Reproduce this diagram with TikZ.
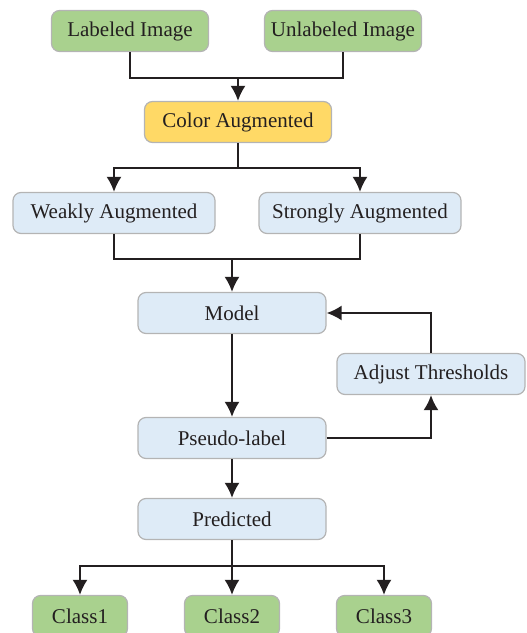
\documentclass[tikz,border=0pt]{standalone}
\usepackage{fontspec}
\setmainfont{Liberation Serif}
\usetikzlibrary{arrows.meta,positioning}

\definecolor{boxgreen}{HTML}{A9D18E}
\definecolor{boxyellow}{HTML}{FFD966}
\definecolor{boxblue}{HTML}{DEEBF7}
\definecolor{boxline}{HTML}{B4B4B4}
\definecolor{txt}{HTML}{231F20}

\begin{document}
\begin{tikzpicture}[
     x=0.5pt, y=-0.5pt,
     % define styles
     box/.style={
         draw=boxline,
         line width=0.6pt,
         rounded corners=4pt,
         minimum height=20.5pt,
         inner sep=2pt,
         text=txt,
         font=\fontsize{10.5}{12}\selectfont
     },
     source/.style={box, fill=boxgreen, minimum width=78.5pt},
     mix/.style={box, fill=boxyellow, minimum width=93.5pt},
     stage/.style={box, fill=boxblue, minimum width=94pt},
     aug/.style={box, fill=boxblue, minimum width=101pt},
     cls/.style={box, fill=boxgreen, minimum width=47.5pt},
     link/.style={draw=txt, line width=1pt},
     >={Latex[length=7.5pt,width=7.5pt]}
]
\useasboundingbox (0,0) rectangle (526,633);

% input images
\node[source] (lab) at (130,31) {Labeled Image};
\node[source] (unl) at (343,31) {Unlabeled Image};
\node[mix] (col) at (238,122) {Color Augmented};

% augmentations
\node[aug] (weak) at (114,213) {Weakly Augmented};
\node[aug] (strong) at (360,213) {Strongly Augmented};

% main loop
\node[stage] (model) at (232,313) {Model};
\node[stage] (adjust) at (431,374) {Adjust Thresholds};
\node[stage] (pseudo) at (232,438) {Pseudo-label};
\node[stage] (pred) at (232,519) {Predicted};

% output classes
\node[cls] (c1) at (80,616) {Class1};
\node[cls] (c2) at (232,616) {Class2};
\node[cls] (c3) at (384,616) {Class3};

% junctions
\coordinate (j1) at (238,78);
\coordinate (j2) at (238,168);
\coordinate (j3) at (232,259);
\coordinate (j4) at (232,566);

\draw[link] (lab.south) |- (j1) -| (unl.south);
\draw[link,->] (j1) -- (col.north);
\draw[link] (col.south) -- (j2);
\draw[link,->] (j2) -| (weak.north);
\draw[link,->] (j2) -| (strong.north);
\draw[link] (weak.south) |- (j3) -| (strong.south);
\draw[link,->] (j3) -- (model.north);
\draw[link,->] (model.south) -- (pseudo.north);
\draw[link,->] (pseudo.east) -| (adjust.south);
\draw[link,->] (adjust.north) |- (model.east);
\draw[link,->] (pseudo.south) -- (pred.north);
\draw[link] (pred.south) -- (j4);
\draw[link,->] (j4) -| (c1.north);
\draw[link,->] (j4) -- (c2.north);
\draw[link,->] (j4) -| (c3.north);
\end{tikzpicture}
\end{document}
